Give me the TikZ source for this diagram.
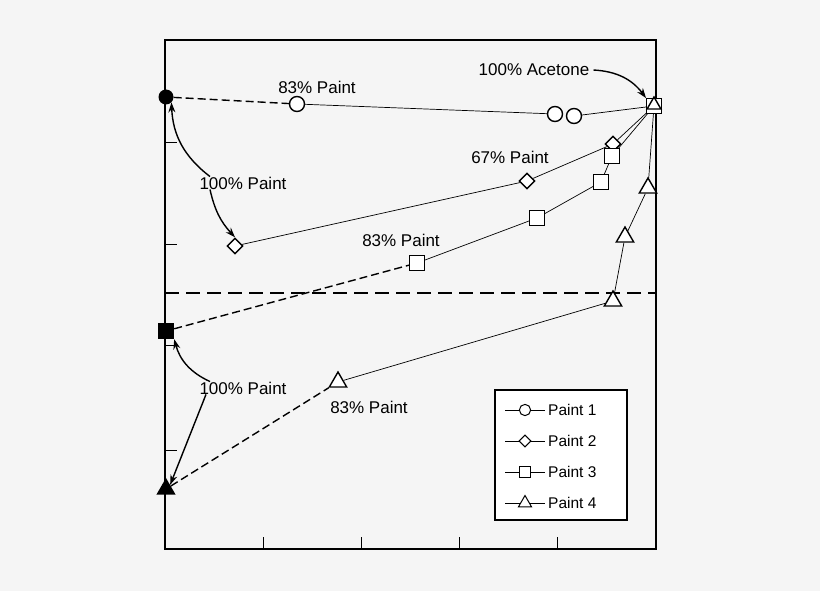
\documentclass[tikz,border=0pt]{standalone}
\usepackage{fontspec}
\setmainfont{Liberation Sans}
\usetikzlibrary{arrows.meta,shapes.geometric}
\begin{document}
\begin{tikzpicture}[x=1pt,y=-1pt,
  lab/.style={font=\fontsize{17}{19}\selectfont,inner sep=0},
  mk/.style={draw,fill=white,line width=1.4pt,inner sep=0},
  ci/.style={mk,circle,minimum size=15pt},
  di/.style={mk,diamond,minimum size=16pt},
  sq/.style={mk,rectangle,minimum size=14.5pt},
  tri/.style={mk,regular polygon,regular polygon sides=3,minimum size=20pt},
  thin line/.style={line width=0.7pt},
  dsh/.style={line width=1.4pt,dash pattern=on 8pt off 4pt},
  ar/.style={-{Stealth[length=10pt,width=7pt]},line width=1.4pt}]
\fill[black!4] (0,0) rectangle (820,591);
\useasboundingbox (0,0) rectangle (820,591);
\draw[line width=1.8pt] (165,549) -- (165,40) -- (656,40) -- (656,549) -- cycle;
\foreach \y in {143,244,345,450} \draw[line width=1pt] (165,\y) -- (177,\y);
\foreach \x in {263,361,459,557} \draw[line width=1pt] (\x,549) -- (\x,537);
\draw[line width=2.6pt,dash pattern=on 14pt off 7pt] (165,293) -- (656,293);
% Paint 1
\node[circle,fill,minimum size=15pt,inner sep=0] (a0) at (166,97) {};
\node[ci] (a1) at (297,104) {};
\node[ci] (a2) at (555,114) {};
\node[ci] (a3) at (574,116) {};
\coordinate (e) at (654,106);
\draw[dsh] (a0) -- (a1);
\draw[thin line] (a1) -- (a2) (a3) -- (e);
% Paint 2
\node[di] (b0) at (235,246) {};
\node[di] (b1) at (527,181) {};
\node[di] (b2) at (613,144) {};
\draw[thin line] (b0) -- (b1) -- (b2) -- (e);
% Paint 3
\node[rectangle,fill,minimum size=16pt,inner sep=0] (c0) at (166,331) {};
\node[sq] (c1) at (417,263) {};
\node[sq] (c2) at (537,218) {};
\node[sq] (c3) at (601,182) {};
\node[sq] (c4) at (612,156) {};
\draw[dsh] (c0) -- (c1);
\draw[thin line] (c1) -- (c2) -- (c3) -- (c4) -- (e);
% Paint 4
\node[regular polygon,regular polygon sides=3,fill,minimum size=22pt,inner sep=0] (d0) at (166,489) {};
\node[tri] (d1) at (338,382) {};
\node[tri] (d2) at (613,301) {};
\node[tri] (d3) at (625,237) {};
\node[tri] (d4) at (648,188) {};
\draw[dsh] (d0) -- (d1);
\draw[thin line] (d1) -- (d2) -- (d3) -- (d4) -- (e);
\node[sq] (esq) at (e) {};
\node[tri,minimum size=16pt] (etr) at (654,105) {};
% labels
\node[lab] (l1) at (317,87) {83\% Paint};
\node[lab] (l2) at (534,70) {100\% Acetone};
\draw[ar] ([xshift=4pt]l2.east) to[bend left=25] (esq.north west);
\node[lab] (l3) at (510,157) {67\% Paint};
\node[lab] (l4) at (243,183) {100\% Paint};
\draw[ar] ([xshift=-33pt]l4.north) to[bend left=25] (a0.south east);
\draw[ar] ([xshift=-33pt]l4.south) to[bend left=-15] (b0.north);
\node[lab] (l5) at (401,240) {83\% Paint};
\node[lab] (l6) at (243,388) {100\% Paint};
\draw[ar] ([xshift=-33pt]l6.north) to[bend left=25] (c0.south east);
\draw[ar] ([xshift=-37pt]l6.south) -- (d0.north east);
\node[lab] (l7) at (369,407) {83\% Paint};
% legend
\draw[line width=1.2pt,fill=white] (495,390) rectangle (627,520);
\foreach \y/\s/\t in {410/ci/1,441/di/2,472/sq/3,503/tri/4}{
  \draw[thin line] (505,\y) -- (545,\y);
  \node[\s,line width=1pt,scale=0.75] at (525,\y) {};
  \node[lab,anchor=west,font=\fontsize{15.5}{17}\selectfont] at (548,\y) {Paint \t};
}
\end{tikzpicture}
\end{document}
